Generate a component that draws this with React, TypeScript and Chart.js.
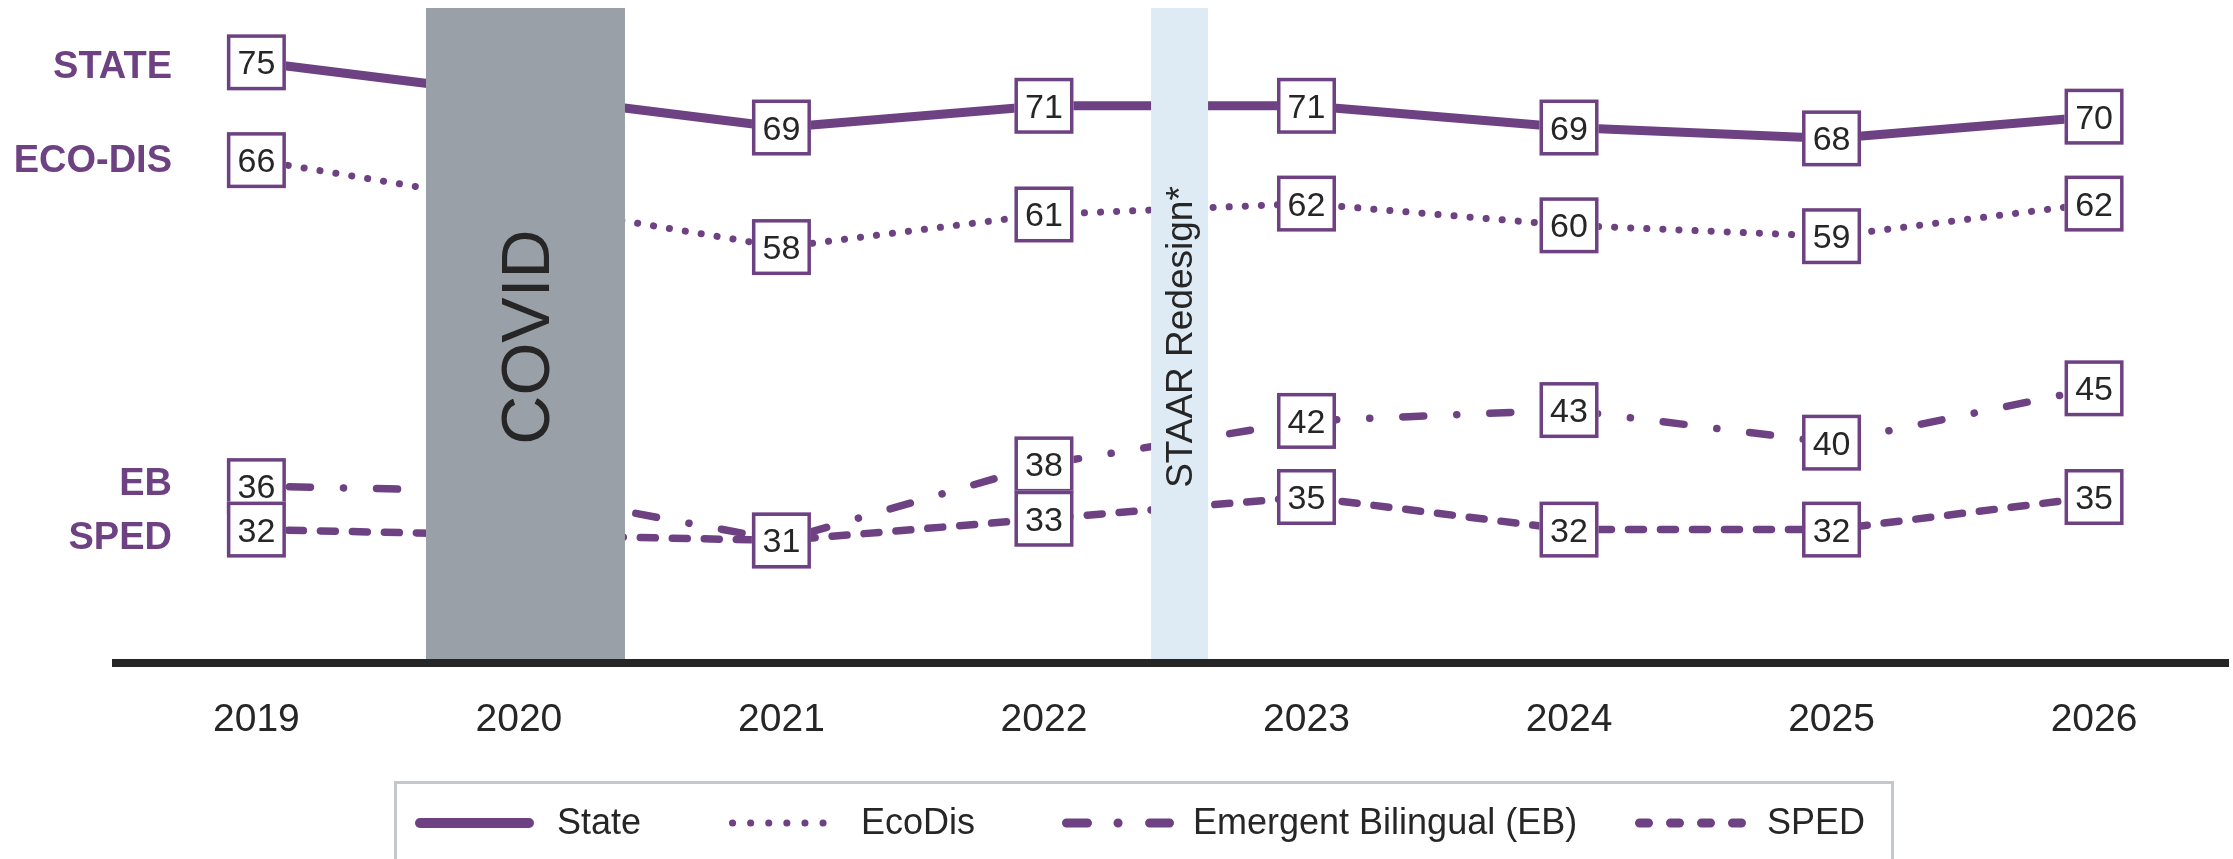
import React, { useEffect, useRef } from 'react';
import { Chart, registerables } from 'chart.js';

Chart.register(...registerables);

// ---------- data ----------
const years = ['2019', '2020', '2021', '2022', '2023', '2024', '2025', '2026'];
const stateValues = [75, null, 69, 71, 71, 69, 68, 70];
const ecoDisValues = [66, null, 58, 61, 62, 60, 59, 62];
const ebValues = [36, 35.5, 31, 38, 42, 43, 40, 45];
const spedValues = [32, null, 31, 33, 35, 32, 32, 35];
const seriesNames = ['State', 'EcoDis', 'Emergent Bilingual (EB)', 'SPED'];
const sideLabels = ['STATE', 'ECO-DIS', 'EB', 'SPED'];
const bandLabels = ['COVID', 'STAAR Redesign*'];
const bandStarts = [0.646, 3.408]; // in year-index units
const bandEnds = [1.404, 3.625];

// ---------- styles ----------
const FONT = '"Liberation Sans", Arial, sans-serif';
const PURPLE = '#6e4183';
const TEXT = '#262626';
const BAND_COLORS = ['#9aa0a7', '#deebf5'];
const LINE_WIDTHS = [9, 7, 7.5, 7.5];
const LINE_DASHES = [[], [0.1, 16], [0.1, 33, 21, 33], [15, 17]];

const allSeries = [stateValues, ecoDisValues, ebValues, spedValues];

const overlayPlugin = {
  id: 'overlay',
  afterDatasetsDraw(chart: any) {
    const { ctx, chartArea: ca, scales } = chart;
    const x = scales.x;
    const y = scales.y;
    ctx.save();

    // shaded bands with rotated captions
    bandLabels.forEach((lab, i) => {
      const x0 = x.getPixelForValue(bandStarts[i]);
      const x1 = x.getPixelForValue(bandEnds[i]);
      ctx.fillStyle = BAND_COLORS[i];
      ctx.fillRect(x0, ca.top, x1 - x0, ca.bottom - ca.top);
      ctx.save();
      ctx.translate((x0 + x1) / 2, (ca.top + ca.bottom) / 2 + 3);
      ctx.rotate(-Math.PI / 2);
      ctx.fillStyle = TEXT;
      ctx.textAlign = 'center';
      ctx.textBaseline = 'alphabetic';
      if (i === 0) {
        ctx.font = `68px ${FONT}`;
        ctx.fillText(lab, 0, 24);
      } else {
        ctx.font = `37px ${FONT}`;
        ctx.fillText(lab, 0, 12);
      }
      ctx.restore();
    });

    // axis line
    ctx.fillStyle = TEXT;
    ctx.fillRect(ca.left, ca.bottom - 1, chart.width - ca.left - 4, 8);

    // value boxes
    ctx.setLineDash([]);
    allSeries.forEach((vals, di) => {
      const meta = chart.getDatasetMeta(di);
      vals.forEach((v, i) => {
        if (v == null) return;
        const hidden = bandStarts.some((s, b) => i > s && i < bandEnds[b]);
        if (hidden) return;
        const pt = meta.data[i];
        const px = pt.x;
        const py = pt.y;
        const w = 59, h = 56, bw = 3.5;
        ctx.fillStyle = '#ffffff';
        ctx.fillRect(px - w / 2, py - h / 2, w, h);
        ctx.strokeStyle = PURPLE;
        ctx.lineWidth = bw;
        ctx.strokeRect(px - w / 2 + bw / 2, py - h / 2 + bw / 2, w - bw, h - bw);
        ctx.fillStyle = TEXT;
        ctx.font = `34px ${FONT}`;
        ctx.textAlign = 'center';
        ctx.textBaseline = 'alphabetic';
        ctx.fillText(String(v), px, py + 12);
      });
    });

    // side labels
    const sideOffsets = [16, 12, 9, 19];
    ctx.font = `bold 38px ${FONT}`;
    ctx.fillStyle = PURPLE;
    ctx.textAlign = 'right';
    ctx.textBaseline = 'alphabetic';
    sideLabels.forEach((lab, i) => {
      const py = y.getPixelForValue(allSeries[i][0] as number);
      ctx.fillText(lab, 172, py + sideOffsets[i]);
    });

    ctx.restore();
  },
  afterDraw(chart: any) {
    const { ctx } = chart;
    ctx.save();
    // legend frame (runs past the bottom edge)
    ctx.strokeStyle = '#c3c8cc';
    ctx.lineWidth = 3;
    ctx.setLineDash([]);
    ctx.strokeRect(395.5, 782.5, 1497, 200);

    const lineY = 823;
    const starts = [415, 729, 1062, 1635];
    const ends = [534, 837, 1174, 1749];
    const textX = [557, 861, 1193, 1767];
    const widths = [10, 7, 9, 9];
    const dashes = [[], [0.1, 18], [21, 30.5, 0.1, 31.5, 20, 100], [9, 22]];
    seriesNames.forEach((name, i) => {
      const lw = widths[i];
      ctx.strokeStyle = PURPLE;
      ctx.lineWidth = lw;
      ctx.lineCap = 'round';
      ctx.setLineDash(dashes[i]);
      ctx.beginPath();
      ctx.moveTo(starts[i] + lw / 2, lineY);
      ctx.lineTo(ends[i] - lw / 2, lineY);
      ctx.stroke();
      ctx.setLineDash([]);
      ctx.fillStyle = TEXT;
      ctx.font = `36px ${FONT}`;
      ctx.textAlign = 'left';
      ctx.textBaseline = 'alphabetic';
      ctx.fillText(name, textX[i], 834);
    });
    ctx.restore();
  },
};

export default function App() {
  const canvasRef = useRef<HTMLCanvasElement | null>(null);

  useEffect(() => {
    const canvas = canvasRef.current;
    if (!canvas) return;
    const datasets = allSeries.map((vals, i) => ({
      label: seriesNames[i],
      data: vals.map((v, k) => ({ x: k, y: v })),
      borderColor: PURPLE,
      backgroundColor: PURPLE,
      borderWidth: LINE_WIDTHS[i],
      borderDash: LINE_DASHES[i],
      borderCapStyle: i === 0 ? 'butt' : 'round',
      borderJoinStyle: 'round',
      pointRadius: 0,
      tension: 0,
      fill: false,
      spanGaps: true,
    }));

    const chart = new Chart(canvas, {
      type: 'line',
      data: { datasets } as any,
      options: {
        responsive: false,
        animation: false,
        devicePixelRatio: 1,
        layout: { padding: { left: 112, right: 4, top: 8, bottom: 0 } },
        plugins: { legend: { display: false }, tooltip: { enabled: false } },
        scales: {
          x: {
            type: 'linear',
            min: -0.55,
            max: 7.514,
            grid: { display: false, drawTicks: false, tickLength: 0 },
            border: { display: false },
            afterBuildTicks: (s: any) => {
              s.ticks = years.map((_, i) => ({ value: i }));
            },
            afterFit: (s: any) => {
              s.height = 199;
            },
            ticks: {
              autoSkip: false,
              maxRotation: 0,
              padding: 37,
              color: TEXT,
              font: { family: FONT, size: 39 },
              callback: (v: any) => years[v] ?? '',
            },
          },
          y: { display: false, min: 20, max: 80 },
        },
      } as any,
      plugins: [overlayPlugin],
    });
    return () => chart.destroy();
  }, []);

  return (
    <div style={{ position: 'absolute', left: 0, top: 0, width: 2233, height: 859, background: '#fff' }}>
      <canvas ref={canvasRef} width={2233} height={859} style={{ display: 'block' }} />
    </div>
  );
}
